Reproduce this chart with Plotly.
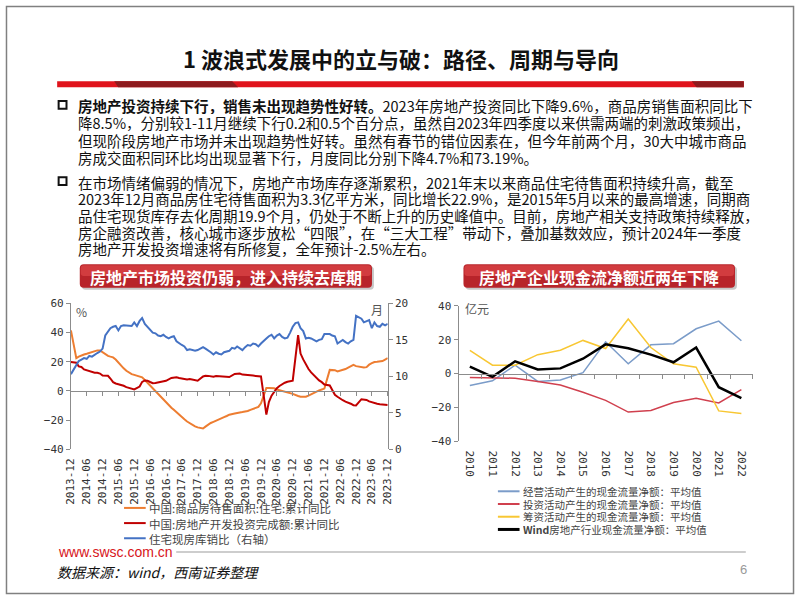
import plotly.graph_objects as go
import pandas as pd

W, H = 802, 602
def X(px): return px / W
def Y(py): return 1 - py / H

# ---------------- data: left chart (monthly, 2013-12 .. 2023-12) ----------------
months = pd.date_range("2013-12-01", "2023-12-01", freq="MS")

stock_yoy = [41.5,
    None, 22.5, 23.5, 24.5, 25, 25.5, 26, 27, 27.5, 27.8, 27.8, 26.5,
    None, 24, 23.5, 23, 21.5, 19.3, 17.5, 15.5, 13.8, 12.5, 11.5, 11,
    None, 10, 9.3, 7.5, 5.6, 3.5, 1.8, 0, -2, -4.2, -6.2, -8,
    None, -11.5, -13, -14.8, -16.3, -18, -19.5, -21, -22.3, -23.3, -24.3, -25,
    None, -25.8, -24.5, -23, -22, -21.2, -20.3, -19.5, -18.7, -18, -17.2, -16.3,
    None, -15.5, -15, -14.8, -14.5, -14.2, -13.8, -13, -12.5, -12, -11, -8.5,
    None, 2, 2, 2, 1.8, 1, 0.5, 0, -0.5, -1, -1.3, -2,
    None, -3.5, -4, -4, -4, -3.2, -2.2, -1.5, -0.5, 0.4, 1, 1.6,
    None, 14.4, 14.4, 14.2, 13.3, 13.8, 14.5, 15, 16, 17, 17.8, 17,
    None, 16, 16, 16.3, 18, 19, 19.8, 20, 20.3, 20.5, 21.5, 22.5]

invest_yoy = [19.8,
    None, 19.3, 16.8, 16.4, 14.7, 14.1, 13.7, 13.2, 12.5, 12.4, 11.9, 10.5,
    None, 10.4, 8.5, 6.0, 5.1, 4.6, 4.3, 3.5, 2.6, 2.0, 1.3, 1.0,
    None, 3.0, 6.2, 7.2, 7.0, 6.1, 5.3, 5.4, 5.8, 6.6, 6.5, 6.9,
    None, 8.9, 9.1, 9.3, 8.8, 8.5, 7.9, 7.9, 8.1, 7.8, 7.5, 7.0,
    None, 9.9, 10.4, 10.3, 10.2, 9.7, 10.2, 10.1, 9.9, 9.7, 9.7, 9.5,
    None, 11.6, 11.8, 11.9, 11.2, 10.9, 10.6, 10.5, 10.5, 10.3, 10.2, 9.9,
    None, -16.3, -7.7, -3.3, -0.3, 1.9, 3.4, 4.6, 5.6, 6.3, 6.8, 7.0,
    None, 38.3, 25.6, 21.6, 18.3, 15.0, 12.7, 10.9, 8.8, 7.2, 6.0, 4.4,
    None, 3.7, 0.7, -2.7, -4.0, -5.4, -6.4, -7.4, -8.0, -8.8, -9.8, -10.0,
    None, -5.7, -5.8, -6.2, -7.2, -7.9, -8.5, -8.8, -9.1, -9.3, -9.4, -9.6]

inv_sales_ratio = [10.3,
    10.9, 11.6, 12.1, 12.3, 12.5, 12.4, 12.8, 12.7, 13.0, 13.2, 13.4, 13.8,
    15.6, 16.2, 16.6, 16.8, 16.9, 16.3, 16.9, 17.0, 17.0, 16.9, 16.9, 17.4,
    16.9, 17.6, 18.0, 17.2, 16.8, 16.3, 16.0, 15.9, 15.6, 15.5, 15.7, 15.4,
    15.2, 15.4, 15.5, 14.8, 14.5, 14.3, 14.1, 13.6, 13.7, 13.6, 13.5, 13.6,
    13.8, 14.0, 13.8, 13.6, 13.3, 13.0, 13.3, 13.1, 13.0, 13.3, 13.4, 13.5,
    13.9, 13.8, 14.1, 13.9, 13.6, 14.0, 14.3, 14.2, 14.5, 14.4, 14.1, 14.5,
    14.9, 15.2, 15.5, 15.7, 15.2, 15.6, 15.8, 15.4, 15.2, 15.3, 16.0, 16.8,
    17.3, 17.4, 16.6, 16.2, 15.2, 15.3, 15.2, 15.0, 14.8, 15.0, 15.1, 15.8,
    15.8, 15.8, 15.6, 15.5, 14.5, 14.8, 15.0, 14.7, 14.5, 14.8, 15.0, 18.3,
    18.1, 17.9, 17.4, 17.6, 17.7, 16.6, 17.4, 16.9, 16.8, 17.2, 17.0, 17.2]

left_tick_labels = ["2013-12", "2014-06", "2014-12", "2015-06", "2015-12", "2016-06",
                    "2016-12", "2017-06", "2017-12", "2018-06", "2018-12", "2019-06",
                    "2019-12", "2020-06", "2020-12", "2021-06", "2021-12", "2022-06",
                    "2022-12", "2023-06", "2023-12"]
left_tick_vals = pd.to_datetime(left_tick_labels, format="%Y-%m")

# ---------------- data: right chart (annual) ----------------
years = ["2010", "2011", "2012", "2013", "2014", "2015", "2016",
         "2017", "2018", "2019", "2020", "2021", "2022"]
op_cf = [-7, -4.2, 5, -4.6, -3.7, 0.6, 18.8, 5.8, 17, 17.7, 26.5, 31, 19.4]
inv_cf = [-2.3, -2.3, -2.7, -4.6, -6.7, -11, -15.8, -22.7, -21.7, -17, -14.6, -17.3, -9.4]
fin_cf = [13.7, 5, 5, 11.2, 13.8, 19.6, 14.8, 32.3, 15.4, 5.8, 3.8, -22, -23.5]
wind_cf = [4.2, -1.9, 7.3, 2.5, 3.1, 8.8, 17.3, 15, 11.2, 6.7, 15.4, -8, -14.4]

CJK = "Noto Sans CJK SC"
MONO = "DejaVu Sans Mono"
AXC = "#8c8c8c"

left_series = [
    ("中国:商品房待售面积:住宅:累计同比", stock_yoy, "#ED7D31", 2, "y"),
    ("中国:房地产开发投资完成额:累计同比", invest_yoy, "#C00000", 2, "y"),
    ("住宅现房库销比（右轴）", inv_sales_ratio, "#4472C4", 2, "y2"),
]
right_series = [
    ("经营活动产生的现金流量净额：平均值", op_cf, "#7B9CC9", 1.5),
    ("投资活动产生的现金流量净额：平均值", inv_cf, "#D0404E", 1.5),
    ("筹资活动产生的现金流量净额：平均值", fin_cf, "#F8C733", 1.5),
    ("<b>Wind</b>房地产行业现金流量净额：平均值", wind_cf, "#000000", 2.5),
]

fig = go.Figure()

for name, vals, color, width, yax in left_series:
    fig.add_trace(go.Scatter(x=months, y=vals, name=name, mode="lines", connectgaps=True,
                             line=dict(color=color, width=width), xaxis="x", yaxis=yax))
# helper trace so the zero-line axis is drawn
fig.add_trace(go.Scatter(x=[months[0]], y=[None], xaxis="x2", yaxis="y", hoverinfo="skip"))

for name, vals, color, width in right_series:
    fig.add_trace(go.Scatter(x=years, y=vals, name=name, mode="lines",
                             line=dict(color=color, width=width), xaxis="x3", yaxis="y3"))
fig.add_trace(go.Scatter(x=years, y=[None] * len(years), xaxis="x4", yaxis="y3",
                         hoverinfo="skip"))

# domains
lx = [X(66), X(388)]
ly = [Y(453), Y(304)]
rx = [X(460), X(759)]
ry = [Y(445), Y(306.5)]
left_zero = ly[0] + 0.4 * (ly[1] - ly[0])
right_zero = ry[0] + 0.5 * (ry[1] - ry[0])

tickfont = dict(family=MONO, size=11, color="#333")
xr = [months[0], months[-1]]

fig.update_layout(
    width=W, height=H, margin=dict(l=0, r=0, t=0, b=0),
    paper_bgcolor="white", plot_bgcolor="rgba(0,0,0,0)", showlegend=False,
    xaxis=dict(domain=lx, anchor="y", type="date", range=xr, tickvals=left_tick_vals,
               ticktext=left_tick_labels, tickangle=-90, ticks="", showline=False,
               showgrid=False, zeroline=False, tickfont=tickfont, ticklabelstandoff=6),
    xaxis2=dict(overlaying="x", anchor="free", position=left_zero, type="date", range=xr,
                tickvals=left_tick_vals, showticklabels=False, ticks="outside", ticklen=4,
                tickcolor=AXC, showline=True, linecolor=AXC, linewidth=1, showgrid=False,
                zeroline=False),
    yaxis=dict(domain=ly, anchor="x", range=[-40, 60], dtick=20, ticks="outside",
               ticklen=4, tickcolor=AXC, showline=True, linecolor=AXC, showgrid=False,
               zeroline=False, tickfont=tickfont),
    yaxis2=dict(overlaying="y", side="right", anchor="x", range=[0, 20], dtick=5,
                ticks="outside", ticklen=4, tickcolor=AXC, showline=True, linecolor=AXC,
                showgrid=False, zeroline=False, tickfont=tickfont),
    xaxis3=dict(domain=rx, anchor="y3", type="category", range=[-0.5, 12.5],
                tickangle=90, ticks="", showline=False, showgrid=False, zeroline=False,
                tickfont=tickfont, ticklabelstandoff=8),
    xaxis4=dict(overlaying="x3", anchor="free", position=right_zero, type="category",
                range=[-0.5, 12.5], showticklabels=False, ticks="outside", ticklen=4,
                tickson="boundaries", tickcolor=AXC, showline=True, linecolor=AXC,
                showgrid=False, zeroline=False),
    yaxis3=dict(domain=ry, anchor="x3", range=[-40, 40], dtick=20, ticks="outside",
                ticklen=4, tickcolor=AXC, showline=True, linecolor=AXC, showgrid=False,
                zeroline=False, tickfont=tickfont),
)

shapes = []
annotations = []

def ann(text, x, y, size, color="#111", family=CJK, xanchor="left", height=None):
    d = dict(text=text, x=X(x), y=Y(y), xref="paper", yref="paper", showarrow=False,
             xanchor=xanchor, yanchor="middle", font=dict(family=family, size=size, color=color))
    if height:
        d["height"] = height
        d["valign"] = "middle"
    annotations.append(d)

# manual legends (entries follow the series lists)
for i, (name, vals, color, width, yax) in enumerate(left_series):
    yy = 513 + i * 15.5
    shapes.append(dict(type="line", xref="paper", yref="paper", x0=X(120), x1=X(142),
                       y0=Y(yy), y1=Y(yy), line=dict(color=color, width=2)))
    ann(name, 143, yy, 11.5, color="#444", height=15)
for i, (name, vals, color, width) in enumerate(right_series):
    yy = 496 + i * 13
    shapes.append(dict(type="line", xref="paper", yref="paper", x0=X(500), x1=X(522),
                       y0=Y(yy), y1=Y(yy), line=dict(color=color, width=width + 0.5)))
    ann(name, 523, yy, 10.5, color="#444", height=13)

# slide border
shapes.append(dict(type="rect", xref="paper", yref="paper", x0=X(0.5), x1=X(800.5),
                   y0=Y(600.5), y1=Y(0.5), line=dict(color="#808080", width=1.5)))

# title bar
shapes.append(dict(type="rect", xref="paper", yref="paper", x0=X(52), x1=X(750),
                   y0=Y(83), y1=Y(77), fillcolor="#E0141C", line=dict(width=0)))
shapes.append(dict(type="path", xref="paper", yref="paper",
                   path=f"M {X(110)},{Y(77)} L {X(230)},{Y(77)} L {X(236)},{Y(83)} L {X(114)},{Y(83)} Z",
                   fillcolor="#8E1B1E", line=dict(width=0)))
shapes.append(dict(type="path", xref="paper", yref="paper",
                   path=f"M {X(697)},{Y(77)} L {X(750)},{Y(77)} L {X(750)},{Y(83)} L {X(702)},{Y(83)} Z",
                   fillcolor="#8E1B1E", line=dict(width=0)))

ann("<b>1 波浪式发展中的立与破：路径、周期与导向</b>", 401, 53, 22, xanchor="center")

# bullets
for yc in (101, 179):
    shapes.append(dict(type="rect", xref="paper", yref="paper", x0=X(53.5), x1=X(61.5),
                       y0=Y(yc + 4), y1=Y(yc - 4), line=dict(color="#111", width=2)))

para_lines = [
    ("<b>房地产投资持续下行，销售未出现趋势性好转。</b>2023年房地产投资同比下降9.6%，商品房销售面积同比下", 102),
    ("降8.5%，分别较1-11月继续下行0.2和0.5个百分点，虽然自2023年四季度以来供需两端的刺激政策频出，", 119.5),
    ("但现阶段房地产市场并未出现趋势性好转。虽然有春节的错位因素在，但今年前两个月，30大中城市商品", 137),
    ("房成交面积同环比均出现显著下行，月度同比分别下降4.7%和73.19%。", 155),
    ("在市场情绪偏弱的情况下，房地产市场库存逐渐累积，2021年末以来商品住宅待售面积持续升高，截至", 180),
    ("2023年12月商品房住宅待售面积为3.3亿平方米，同比增长22.9%，是2015年5月以来的最高增速，同期商", 197),
    ("品住宅现货库存去化周期19.9个月，仍处于不断上升的历史峰值中。目前，房地产相关支持政策持续释放，", 214),
    ("房企融资改善，核心城市逐步放松“四限”，在“三大工程”带动下，叠加基数效应，预计2024年一季度", 231),
    ("房地产开发投资增速将有所修复，全年预计-2.5%左右。", 248),
]
for txt, yc in para_lines:
    ann(txt, 71, yc, 14.5, height=17)

# header boxes
def rounded(x0, y0, x1, y1, r):
    return (f"M {X(x0 + r)},{Y(y0)} L {X(x1 - r)},{Y(y0)} Q {X(x1)},{Y(y0)} {X(x1)},{Y(y0 + r)} "
            f"L {X(x1)},{Y(y1 - r)} Q {X(x1)},{Y(y1)} {X(x1 - r)},{Y(y1)} "
            f"L {X(x0 + r)},{Y(y1)} Q {X(x0)},{Y(y1)} {X(x0)},{Y(y1 - r)} "
            f"L {X(x0)},{Y(y0 + r)} Q {X(x0)},{Y(y0)} {X(x0 + r)},{Y(y0)} Z")

for (x0, x1, label) in [(75, 372, "房地产市场投资仍弱，进入持续去库期"),
                        (465, 741, "房地产企业现金流净额近两年下降")]:
    shapes.append(dict(type="path", xref="paper", yref="paper",
                       path=rounded(x0 + 2, 266, x1 + 2, 290, 4),
                       fillcolor="rgba(0,0,0,0.22)", line=dict(width=0)))
    shapes.append(dict(type="path", xref="paper", yref="paper",
                       path=rounded(x0, 264, x1, 288, 4),
                       fillcolor="#B8242A", line=dict(width=0)))
    shapes.append(dict(type="path", xref="paper", yref="paper",
                       path=rounded(x0 + 1, 265, x1 - 1, 276, 3),
                       fillcolor="rgba(232,80,80,0.55)", line=dict(width=0)))
    ann(f"<b>{label}</b>", (x0 + x1) / 2, 276.5, 16, color="white", xanchor="center")

# axis unit labels
ann("%", 69, 312, 12, color="#555")
ann("月", 377, 310, 12, color="#555", xanchor="center")
ann("亿元", 465, 309, 12, color="#555")

# footer
ann("www.swsc.com.cn", 51, 558, 14, color="#D7141A", family="Liberation Sans")
shapes.append(dict(type="line", xref="paper", yref="paper", x0=X(173), x1=X(752),
                   y0=Y(558), y1=Y(558), line=dict(color="#BDBDBD", width=1.5)))
ann("<i>数据来源：wind，西南证券整理</i>", 50, 578, 14)
ann("6", 750, 576, 13, color="#999", family="Liberation Sans", xanchor="center")

fig.update_layout(shapes=shapes, annotations=annotations)

fig.write_html("out.html", config={"displayModeBar": False},
               post_script="document.body.style.margin='0';")
